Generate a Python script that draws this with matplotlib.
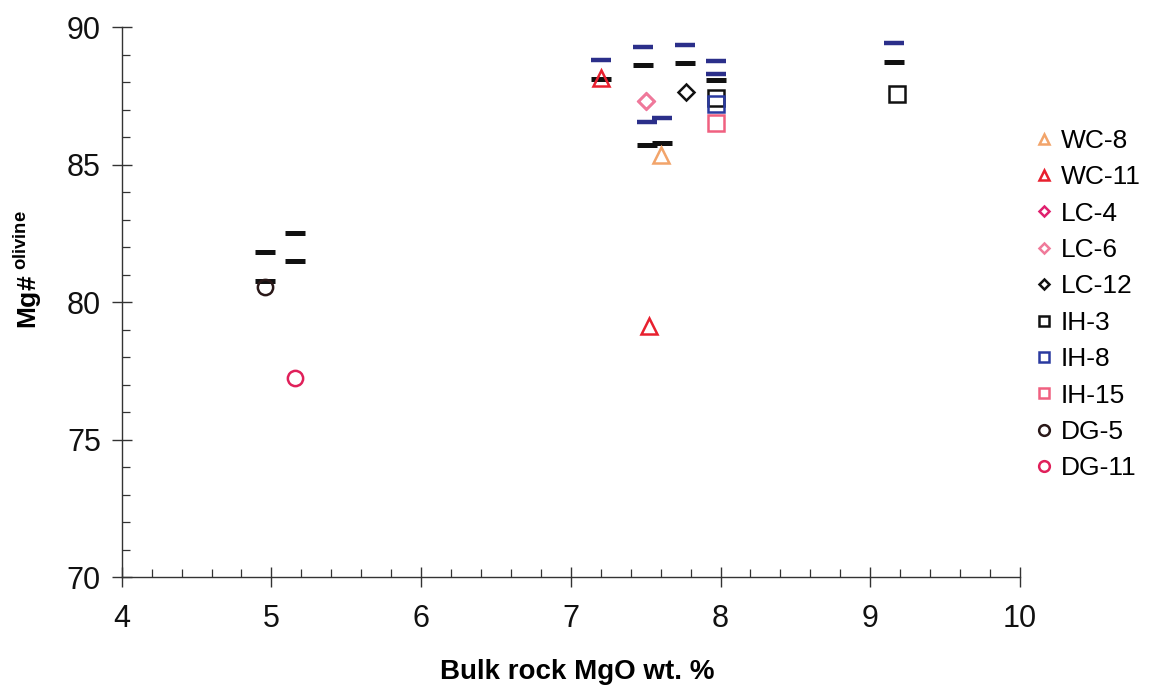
"""
Mg# olivine vs bulk rock MgO
"""
import matplotlib
matplotlib.use('Agg')
import matplotlib.pyplot as plt
from matplotlib.ticker import MultipleLocator

plt.rcParams['font.family'] = ['Liberation Sans', 'DejaVu Sans']
plt.rcParams['mathtext.fontset'] = 'custom'
plt.rcParams['mathtext.bf'] = 'Liberation Sans:bold'
plt.rcParams['mathtext.rm'] = 'Liberation Sans'

# samples (x = bulk MgO, y = Mg# olivine)
wc8_x, wc8_y = [7.60], [85.35]
wc11_x, wc11_y = [7.20, 7.52], [88.15, 79.15]
lc4_x, lc4_y = [7.50], [87.30]
lc6_x, lc6_y = [7.50], [87.30]
lc12_x, lc12_y = [7.77], [87.65]
ih3_x, ih3_y = [7.97, 9.18], [87.42, 87.58]
ih8_x, ih8_y = [7.97], [87.22]
ih15_x, ih15_y = [7.97], [86.52]
dg5_x, dg5_y = [4.96], [80.55]
dg11_x, dg11_y = [5.16], [77.25]

# equilibrium olivine bars
black_dash_x = [4.96, 5.16, 5.16, 4.96, 7.20, 7.48, 7.51, 7.61, 7.76, 7.97, 9.16]
black_dash_y = [81.83, 82.50, 81.49, 80.78, 88.10, 88.62, 85.71, 85.77, 88.68, 88.08, 88.74]
blue_dash_x = [7.20, 7.48, 7.51, 7.61, 7.76, 7.97, 7.97, 9.16]
blue_dash_y = [88.80, 89.28, 86.56, 86.68, 89.35, 88.78, 88.30, 89.41]

fig = plt.figure(figsize=(11.59, 6.93), dpi=100)
ax = fig.add_axes([0.105, 0.167, 0.775, 0.794])

# dashes
ax.plot(blue_dash_x, blue_dash_y, ls='none', marker='_', ms=14, mew=3.2, color='#2b2f8a')
ax.plot(black_dash_x, black_dash_y, ls='none', marker='_', ms=14, mew=3.6, color='#111111')

series = [
    (wc8_x, wc8_y, '^', '#f2a46a', 'WC-8'),
    (wc11_x, wc11_y, '^', '#e8202e', 'WC-11'),
    (lc4_x, lc4_y, 'D', '#e0206e', 'LC-4'),
    (lc6_x, lc6_y, 'D', '#f07a9a', 'LC-6'),
    (lc12_x, lc12_y, 'D', '#111111', 'LC-12'),
    (ih3_x, ih3_y, 's', '#111111', 'IH-3'),
    (ih8_x, ih8_y, 's', '#2a3aa0', 'IH-8'),
    (ih15_x, ih15_y, 's', '#f06080', 'IH-15'),
    (dg5_x, dg5_y, 'o', '#2a1818', 'DG-5'),
    (dg11_x, dg11_y, 'o', '#e0205a', 'DG-11'),
]
for xs, ys, mk, col, lab in series:
    ms = 8 if mk == 'D' else 11
    ax.plot(xs, ys, ls='none', marker=mk, ms=ms, mfc='none', mec=col, mew=1.8, label=lab)

ax.set_xlim(4, 10)
ax.set_ylim(70, 90)
ax.xaxis.set_major_locator(MultipleLocator(1))
ax.xaxis.set_minor_locator(MultipleLocator(0.2))
ax.yaxis.set_major_locator(MultipleLocator(5))
ax.yaxis.set_minor_locator(MultipleLocator(1))

for s in ['top', 'right']:
    ax.spines[s].set_visible(False)
for s in ['left', 'bottom']:
    ax.spines[s].set_linewidth(1.0)
    ax.spines[s].set_color('#333333')

ax.tick_params(axis='both', which='major', direction='inout', length=14, width=1,
               labelsize=22, colors='#333333', labelcolor='#111111')
ax.tick_params(axis='x', which='major', pad=12)
ax.tick_params(axis='y', which='major', pad=8)
ax.tick_params(axis='both', which='minor', direction='in', length=6, width=0.9, colors='#333333')

ax.set_xlabel('Bulk rock MgO wt. %', fontsize=20, fontweight='bold')
ax.xaxis.set_label_coords(0.507, -0.148)
ax.set_ylabel(r'$\mathbf{Mg\#}^{\ \mathbf{olivine}}$', fontsize=19)
ax.yaxis.set_label_coords(-0.087, 0.56)

ax.legend(loc='upper left', bbox_to_anchor=(1.016, 0.815), frameon=False, fontsize=19,
          markerscale=0.7, handlelength=0.7, handletextpad=0.3, labelspacing=0.47,
          borderaxespad=0, borderpad=0)

plt.savefig('out.png', dpi=100, facecolor='white')
plt.close()
